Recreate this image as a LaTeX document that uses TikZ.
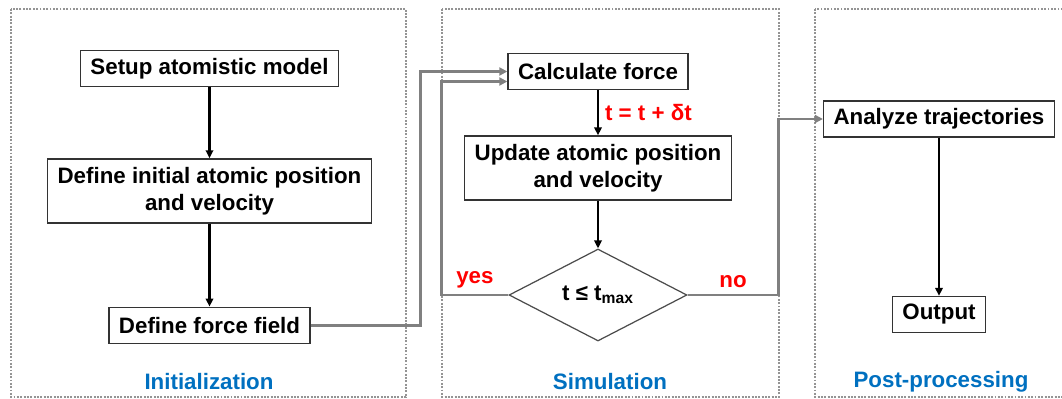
\documentclass[tikz,border=0pt]{standalone}
\usepackage{fontspec}
\setmainfont{Liberation Sans}
\usetikzlibrary{shapes.geometric, arrows.meta, positioning}
\definecolor{phaseblue}{RGB}{0,112,192}
\definecolor{loopgray}{RGB}{128,128,128}

\begin{document}
\begin{tikzpicture}[
        x=0.02cm, y=-0.02cm,
        every node/.style={font=\fontsize{12.7}{15.3}\selectfont\bfseries},
        box/.style={draw=black!80, line width=0.8pt, rectangle, align=center, inner xsep=0.2cm, inner ysep=0pt, minimum height=0.72cm},
        twoline/.style={box, minimum height=1.28cm},
        test/.style={draw=black!70, line width=0.7pt, diamond, aspect=1.93, inner sep=0pt, minimum width=3.56cm, minimum height=1.84cm},
        panel/.style={draw=black!42, line width=1.1pt, dash pattern=on 1.1pt off 0.8pt},
        phase/.style={text=phaseblue},
        cond/.style={text=red},
        flow/.style={-{Triangle[length=4.5pt,width=4.2pt]}, line width=1.4pt},
        loop/.style={-{Triangle[length=4.5pt,width=4.5pt]}, line width=1.6pt, draw=loopgray}
    ]
        \useasboundingbox (0,0) rectangle (1062,399);

        % dotted stage frames
        \draw[panel] (11,9) rectangle (406,397);
        \draw[panel] (442,9) rectangle (779,397);
        \draw[panel] (815,9) rectangle (1080,397);

        % initialization
        \node[box] (setup) at (209.5,68.5) {Setup atomistic model};
        \node[twoline, below=1.42cm of setup] (init) {Define initial atomic position\\and velocity};
        \node[box, below=1.66cm of init] (field) {Define force field};
        \node[phase] (initlbl) at (209,382) {Initialization};

        % simulation
        \node[box] (calc) at (598,71.5) {Calculate force};
        \node[twoline] (update) at (598,168) {Update atomic position\\and velocity};
        \node[test] (check) at (598,295) {t ≤ t\textsubscript{max}};
        \node[phase] (simlbl) at (610,382) {Simulation};

        % post-processing
        \node[box] (analyze) at (939,119) {Analyze trajectories};
        \node[box] (output) at (939,314.5) {Output};
        \node[phase] (postlbl) at (941,382) {Post-processing};

        \draw[flow] (setup) -- (init);
        \draw[flow] (init) -- (field);
        \draw[flow] (calc) -- node[right, cond] {t = t + δt} (update);
        \draw[flow] (update) -- (check);
        \draw[flow] (analyze) -- (output);

        \draw[loop] (field.east) -- ++(110,0) |- (calc.west);
        \draw[loop] (check.west) -- node[above, cond] {yes} ++(-67,0) |- ([yshift=-0.2cm]calc.west);
        \draw[loop] (check.east) -- node[above, cond] {no} ++(91,0) |- (analyze.west);
    \end{tikzpicture}
\end{document}
